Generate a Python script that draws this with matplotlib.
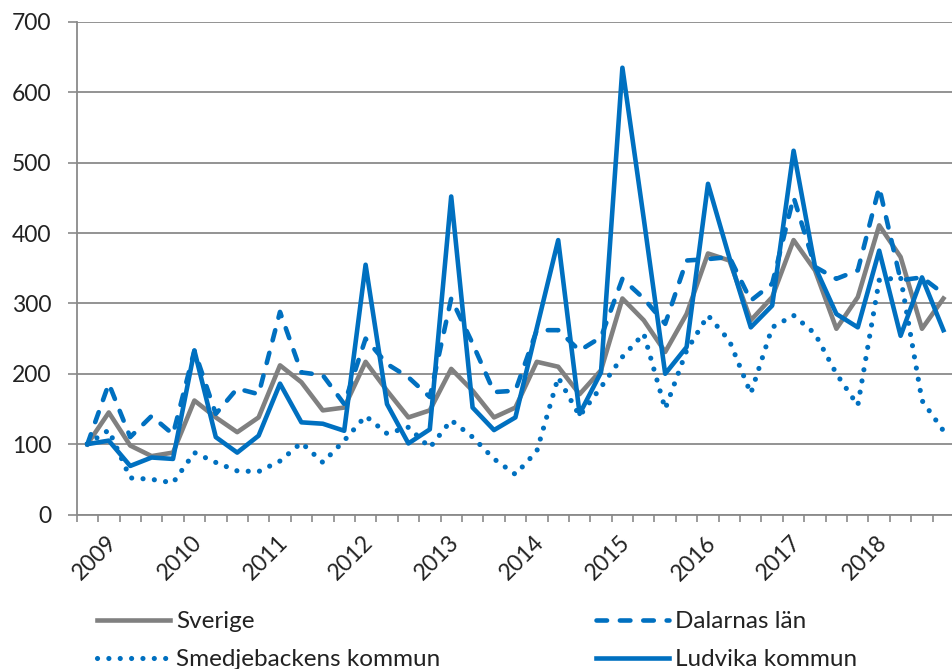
import numpy as np
import matplotlib
matplotlib.use("Agg")
import matplotlib.pyplot as plt

# quarterly values, 2009 Q1 .. 2019 Q1
year_labels = ["2009", "2010", "2011", "2012", "2013", "2014", "2015", "2016", "2017", "2018"]

sverige = [100, 145, 98, 83, 88, 162, 138, 117, 138, 212,
           188, 148, 152, 217, 176, 138, 148, 207, 176, 138,
           152, 217, 210, 171, 205, 307, 276, 231, 285, 371,
           361, 276, 309, 390, 347, 264, 309, 411, 366, 264, 307]
dalarna = [100, 186, 110, 140, 114, 233, 143, 179, 171, 288,
           202, 198, 157, 250, 214, 195, 167, 307, 243, 174,
           176, 262, 262, 233, 252, 335, 307, 271, 361, 363,
           366, 304, 328, 451, 352, 335, 347, 465, 333, 337, 314]
smedjebacken = [100, 120, 52, 50, 45, 88, 74, 62, 61, 76,
                102, 74, 105, 140, 115, 124, 95, 134, 110, 79,
                57, 90, 195, 140, 181, 224, 257, 150, 233, 283,
                247, 172, 266, 283, 257, 200, 155, 333, 337, 162, 119]
ludvika = [100, 105, 69, 81, 79, 233, 110, 88, 112, 186,
           131, 129, 119, 355, 157, 101, 121, 452, 152, 120,
           138, 265, 390, 143, 202, 635, 420, 200, 238, 470,
           365, 266, 297, 517, 352, 285, 266, 375, 254, 337, 262]

plt.rcParams['font.family'] = ['Lato', 'DejaVu Sans']
FS = 16.5
LFS = 17.5
BLUE = "#0070C0"
GRAY = "#808080"
AXC = "#8a8a8a"
TXT = "#222222"
LW = 3.3

fig = plt.figure(figsize=(9.52, 6.69), dpi=100)
ax = fig.add_axes([76.7 / 952, 1 - 514.5 / 669, 877.4 / 952, 492.5 / 669])

x = np.arange(len(sverige))
ax.plot(x, sverige, color=GRAY, lw=LW, solid_joinstyle='round', label="Sverige")
ax.plot(x, dalarna, color=BLUE, lw=LW, linestyle=(0, (2.3, 2.8)),
        dash_capstyle='round', dash_joinstyle='round', label="Dalarnas län")
ax.plot(x, smedjebacken, color=BLUE, lw=3.7, linestyle=(0, (0.01, 2.2)),
        dash_capstyle='round', label="Smedjebackens kommun")
ax.plot(x, ludvika, color=BLUE, lw=LW, solid_joinstyle='round', label="Ludvika kommun")

ax.set_xlim(-0.5, len(sverige) - 0.5)
ax.set_ylim(0, 700)
ax.set_yticks(range(0, 701, 100))
ax.grid(axis='y', color=AXC, lw=1.3)
ax.set_axisbelow(True)

for s in ['top', 'right']:
    ax.spines[s].set_visible(False)
for s in ['left', 'bottom']:
    ax.spines[s].set_color(AXC)
    ax.spines[s].set_linewidth(1.3)

ax.tick_params(axis='y', direction='out', length=6.5, width=1.2, color=AXC,
               labelsize=FS, labelcolor=TXT, pad=11.5)
ax.set_xticks(np.arange(len(year_labels)) * 4 + 1.2)
ax.set_xticklabels(year_labels, rotation=45, ha='right', va='center',
                   rotation_mode='anchor', fontsize=FS, color=TXT)
ax.tick_params(axis='x', which='major', length=0, pad=18)
ax.set_xticks(np.arange(-0.5, len(sverige), 1), minor=True)
ax.tick_params(axis='x', which='minor', direction='out', length=5, width=1.2, color=AXC)

h = {l.get_label(): l for l in ax.get_lines()}
leg_kw = dict(loc='upper left', frameon=False, fontsize=LFS, handlelength=73 / 24.3,
              handletextpad=0.25, labelspacing=0.7, borderpad=0, borderaxespad=0)
leg1 = fig.legend([h["Sverige"], h["Smedjebackens kommun"]],
                  ["Sverige", "Smedjebackens kommun"],
                  bbox_to_anchor=(97 / 952, 1 - 611 / 669), **leg_kw)
leg2 = fig.legend([h["Dalarnas län"], h["Ludvika kommun"]],
                  ["Dalarnas län", "Ludvika kommun"],
                  bbox_to_anchor=(596 / 952, 1 - 611 / 669), **leg_kw)
for t in leg1.get_texts() + leg2.get_texts():
    t.set_color(TXT)

fig.savefig("out.png", dpi=100)
